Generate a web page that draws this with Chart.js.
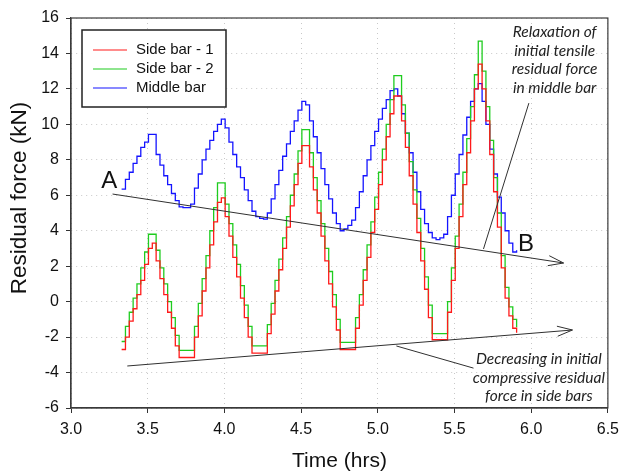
<!DOCTYPE html>
<html>
<head>
<meta charset="utf-8">
<script src="https://cdn.jsdelivr.net/npm/chart.js@4"></script>
<style>
  html, body { margin: 0; padding: 0; background: #fff; }
</style>
</head>
<body>
<canvas id="chart" width="626" height="474"></canvas>
<script>
// time (hrs) of each recorded step
const times = [
  3.330, 3.355, 3.380, 3.405, 3.430, 3.455, 3.480, 3.505, 3.530, 3.555,
  3.580, 3.605, 3.630, 3.655, 3.680, 3.705, 3.730, 3.755, 3.780, 3.805,
  3.830, 3.855, 3.880, 3.905, 3.930, 3.955, 3.980, 4.005, 4.030, 4.055,
  4.080, 4.105, 4.130, 4.155, 4.180, 4.205, 4.230, 4.255, 4.280, 4.305,
  4.330, 4.355, 4.380, 4.405, 4.430, 4.455, 4.480, 4.505, 4.530, 4.555,
  4.580, 4.605, 4.630, 4.655, 4.680, 4.705, 4.730, 4.755, 4.780, 4.805,
  4.830, 4.855, 4.880, 4.905, 4.930, 4.955, 4.980, 5.005, 5.030, 5.055,
  5.080, 5.105, 5.130, 5.155, 5.180, 5.205, 5.230, 5.255, 5.280, 5.305,
  5.330, 5.355, 5.380, 5.405, 5.430, 5.455, 5.480, 5.505, 5.530, 5.555,
  5.580, 5.605, 5.630, 5.655, 5.680, 5.705, 5.730, 5.755, 5.780, 5.805,
  5.830, 5.855, 5.880, 5.905
];

// residual force (kN)
const sideBar1 = [
  -2.7, -2.0, -1.1, -0.4, 0.4, 1.2, 2.1, 3.0, 3.3, 2.3,
  1.3, 0.4, -0.6, -1.5, -2.5, -3.15, -3.15, -3.15, -3.15, -2.0,
  -0.8, 0.6, 1.9, 3.2, 4.5, 5.6, 5.85, 4.8, 3.7, 2.5,
  1.4, 0.2, -0.9, -2.0, -2.9, -2.9, -2.9, -2.9, -1.8, -0.7,
  0.6, 1.8, 3.0, 4.2, 5.4, 6.6, 7.8, 8.8, 8.8, 7.6,
  6.3, 5.0, 3.7, 2.3, 1.0, -0.3, -1.6, -2.7, -2.7, -2.7,
  -2.7, -1.5, -0.2, 1.2, 2.5, 3.9, 5.2, 6.6, 8.0, 9.3,
  10.6, 11.6, 11.6, 10.2, 8.7, 7.1, 5.5, 3.9, 2.3, 0.7,
  -0.9, -2.15, -2.15, -2.15, -2.15, -0.6, 1.2, 3.0, 4.8, 6.6,
  8.4, 10.2, 12.0, 13.4, 12.0, 10.2, 8.3, 6.2, 4.2, 1.9,
  0.2, -0.8, -1.5, -1.75
];
const sideBar2 = [
  -2.25, -1.4, -0.6, 0.2, 1.0, 1.9, 2.8, 3.8, 3.8, 2.9,
  1.9, 1.0, 0.0, -0.9, -1.9, -2.75, -2.75, -2.75, -2.75, -1.4,
  -0.1, 1.3, 2.6, 4.0, 5.3, 6.7, 6.7, 5.5, 4.4, 3.2,
  2.1, 0.9, -0.2, -1.4, -2.5, -2.5, -2.5, -2.5, -1.3, -0.1,
  1.2, 2.4, 3.6, 4.8, 6.0, 7.2, 8.5, 9.7, 9.7, 8.4,
  7.0, 5.7, 4.4, 3.0, 1.7, 0.4, -1.0, -2.3, -2.3, -2.3,
  -2.3, -0.9, 0.4, 1.8, 3.2, 4.5, 5.9, 7.3, 8.6, 10.0,
  11.4, 12.75, 12.75, 11.1, 9.5, 7.9, 6.3, 4.7, 3.0, 1.4,
  -0.2, -1.8, -1.8, -1.8, -1.8, 0.0, 1.9, 3.7, 5.5, 7.3,
  9.2, 11.0, 12.8, 14.7, 13.0, 11.0, 9.1, 7.0, 5.0, 2.6,
  0.8, -0.3, -1.0, -1.45
];
const middleBar = [
  6.35, 6.9, 7.3, 7.8, 8.2, 8.7, 9.0, 9.44, 9.44, 8.3,
  7.7, 7.1, 6.6, 6.1, 5.7, 5.35, 5.3, 5.3, 5.5, 6.4,
  7.2, 8.0, 8.6, 9.1, 9.6, 10.0, 10.3, 9.8, 9.0, 8.3,
  7.6, 7.0, 6.3, 5.7, 5.1, 4.8, 4.7, 4.65, 5.0, 5.8,
  6.6, 7.4, 8.2, 8.9, 9.6, 10.2, 10.8, 11.3, 11.1, 10.2,
  9.3, 8.4, 7.5, 6.6, 5.8, 5.0, 4.4, 4.0, 4.1, 4.3,
  4.6, 5.3, 6.2, 7.1, 8.0, 8.8, 9.6, 10.3, 10.9, 11.4,
  11.9, 12.0, 11.6, 10.6, 9.5, 8.4, 7.3, 6.2, 5.2, 4.4,
  3.9, 3.6, 3.5, 3.6, 3.8, 4.8, 6.0, 7.2, 8.3, 9.4,
  10.4, 11.3, 12.0, 12.3, 11.3, 10.0, 8.6, 7.2, 5.9, 5.0,
  4.0, 3.3, 2.8, 2.9
];

const seriesNames = ["Side bar - 1", "Side bar - 2", "Middle bar"];
const seriesColors = ["#ff1a1a", "#1fcc1f", "#1414ff"];

// annotation arrows and notes, in data units (hrs, kN)
const arrows = [
  { from: [3.271, 6.07], to: [6.211, 2.18], head: true },
  { from: [3.367, -3.63], to: [6.269, -1.6], head: true },
  { from: [5.985, 11.2], to: [5.689, 2.97], head: false },
  { from: [5.121, -2.5], to: [5.624, -3.75], head: false },
];
const pointLabels = [
  { text: "A", at: [3.25, 6.8] },
  { text: "B", at: [5.966, 3.25] },
];
const noteTop = ["Relaxation of", "initial tensile", "residual force", "in middle bar"];
const noteTopAt = [6.153, 15.2];
const noteBottom = ["Decreasing in initial", "compressive residual", "force in side bars"];
const noteBottomAt = [6.05, -3.24];
const yTitle = "Residual force (kN)";

const pts = (ys) => times.map((t, i) => ({ x: t, y: ys[i] }));

const annotate = {
  id: "annotate",
  afterDraw(chart) {
    const { ctx, chartArea: ca, scales: { x, y } } = chart;
    ctx.save();

    // frame
    ctx.strokeStyle = "#3a3a3a";
    ctx.lineWidth = 1.2;
    ctx.strokeRect(ca.left, ca.top, ca.right - ca.left, ca.bottom - ca.top);

    // y axis title (sits a bit above the plot centre in the original)
    ctx.save();
    ctx.translate(20, 198);
    ctx.rotate(-Math.PI / 2);
    ctx.fillStyle = "#111";
    ctx.textAlign = "center";
    ctx.textBaseline = "middle";
    ctx.font = "22.5px 'Liberation Sans', Arial, sans-serif";
    ctx.fillText(yTitle, 0, 0);
    ctx.restore();

    // arrows
    ctx.strokeStyle = "#303030";
    ctx.lineWidth = 1;
    arrows.forEach((a) => {
      const x1 = x.getPixelForValue(a.from[0]), y1 = y.getPixelForValue(a.from[1]);
      const x2 = x.getPixelForValue(a.to[0]), y2 = y.getPixelForValue(a.to[1]);
      ctx.beginPath();
      ctx.moveTo(x1, y1);
      ctx.lineTo(x2, y2);
      ctx.stroke();
      if (a.head) {
        const ang = Math.atan2(y2 - y1, x2 - x1);
        const len = 16, spread = 0.32;
        ctx.beginPath();
        ctx.moveTo(x2 - len * Math.cos(ang - spread), y2 - len * Math.sin(ang - spread));
        ctx.lineTo(x2, y2);
        ctx.lineTo(x2 - len * Math.cos(ang + spread), y2 - len * Math.sin(ang + spread));
        ctx.stroke();
      }
    });

    // A / B
    ctx.fillStyle = "#111";
    ctx.textAlign = "center";
    ctx.textBaseline = "middle";
    ctx.font = "24px 'Liberation Sans', Arial, sans-serif";
    pointLabels.forEach((p) => {
      ctx.fillText(p.text, x.getPixelForValue(p.at[0]), y.getPixelForValue(p.at[1]));
    });

    // notes
    ctx.fillStyle = "#222";
    ctx.font = "italic 15.5px Lato, 'Open Sans', sans-serif";
    const lh = 18.6;
    noteTop.forEach((s, i) => {
      ctx.fillText(s, x.getPixelForValue(noteTopAt[0]), y.getPixelForValue(noteTopAt[1]) + i * lh);
    });
    noteBottom.forEach((s, i) => {
      ctx.fillText(s, x.getPixelForValue(noteBottomAt[0]), y.getPixelForValue(noteBottomAt[1]) + i * lh);
    });

    // legend box
    const lx = ca.left + 11, ly = ca.top + 12, lw = 144, lhBox = 77;
    ctx.fillStyle = "#fff";
    ctx.fillRect(lx, ly, lw, lhBox);
    ctx.strokeStyle = "#222";
    ctx.lineWidth = 1.5;
    ctx.strokeRect(lx, ly, lw, lhBox);
    ctx.font = "15px 'Liberation Sans', Arial, sans-serif";
    ctx.textAlign = "left";
    chart.data.datasets.forEach((ds, i) => {
      const rowY = ly + 20 + i * 19;
      ctx.strokeStyle = ds.borderColor;
      ctx.lineWidth = 1.2;
      ctx.beginPath();
      ctx.moveTo(lx + 11, rowY);
      ctx.lineTo(lx + 45, rowY);
      ctx.stroke();
      ctx.fillStyle = "#111";
      ctx.fillText(ds.label, lx + 54, rowY);
    });

    ctx.restore();
  },
};

const tickFont = { family: "'Liberation Sans', Arial, sans-serif", size: 16 };
const gridOpts = {
  color: "#c8c8c8",
  borderDash: [1, 4],
  tickColor: "#333",
  tickLength: 5,
  tickBorderDash: [],
  drawTicks: true,
};

new Chart(document.getElementById("chart"), {
  type: "line",
  data: {
    datasets: [sideBar1, sideBar2, middleBar].map((ys, i) => ({
      label: seriesNames[i],
      data: pts(ys),
      borderColor: seriesColors[i],
      borderWidth: 1.3,
      stepped: true,
      pointRadius: 0,
      fill: false,
    })),
  },
  options: {
    responsive: false,
    animation: false,
    layout: { padding: { left: 0, top: 18, right: 12, bottom: 0 } },
    plugins: { legend: { display: false }, tooltip: { enabled: false } },
    scales: {
      x: {
        type: "linear",
        min: 3,
        max: 6.5,
        ticks: {
          stepSize: 0.5,
          color: "#111",
          font: tickFont,
          padding: 7,
          maxRotation: 0,
          callback: (v) => v.toFixed(1),
        },
        grid: gridOpts,
        border: { color: "#3a3a3a", width: 1.2, dash: [1, 4] },
        title: {
          display: true,
          text: "Time (hrs)",
          color: "#111",
          font: { family: "'Liberation Sans', Arial, sans-serif", size: 21 },
          padding: { top: 0, bottom: 0 },
        },
        afterFit: (s) => { s.height = 66; },
      },
      y: {
        min: -6,
        max: 16,
        ticks: { stepSize: 2, color: "#111", font: tickFont, padding: 7 },
        grid: gridOpts,
        border: { color: "#3a3a3a", width: 1.2, dash: [1, 4] },
        afterFit: (s) => { s.width = 71; },
      },
    },
  },
  plugins: [annotate],
});
</script>
</body>
</html>
